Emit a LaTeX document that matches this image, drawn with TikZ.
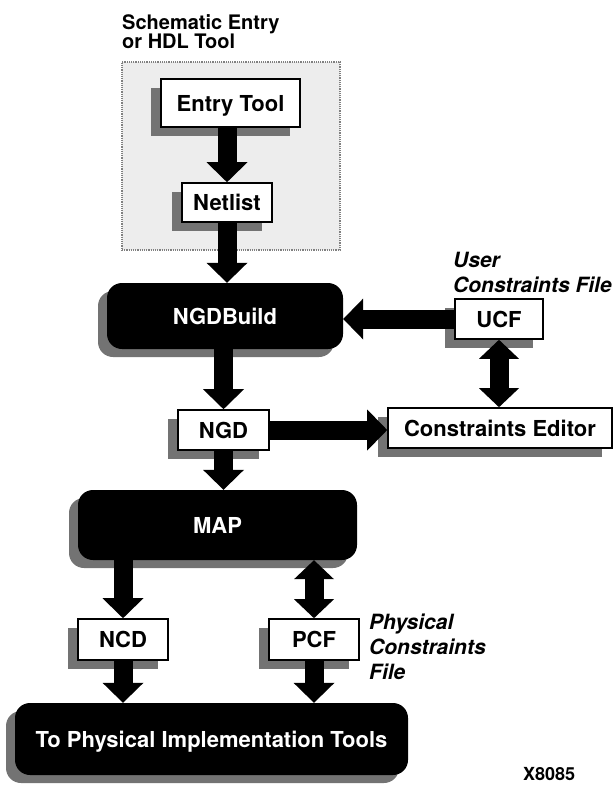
\documentclass[tikz,border=0pt]{standalone}
\usepackage{fontspec}
\setmainfont{TeX Gyre Heros}
\usepackage{xcolor}
\usepackage{tikz}
\usetikzlibrary{arrows.meta,shadows}

\begin{document}
\begin{tikzpicture}[x=1pt, y=-1pt]
		\tikzstyle{every node}=[font=\fontsize{22}{26}\selectfont\bfseries, inner sep=0pt];
		\tikzstyle{toolarea}=[draw=black!50, line width=1.2pt, densely dotted, fill=black!7];
		\tikzstyle{filebox}=[draw=black, line width=1.6pt, fill=white, text height=16pt, text depth=0pt, drop shadow={shadow xshift=-10pt, shadow yshift=-9pt, opacity=1, fill=black!55}];
		\tikzstyle{toolbox}=[fill=black, text=white, rounded corners=15pt, text height=16pt, text depth=0pt, drop shadow={shadow xshift=-9pt, shadow yshift=-8pt, opacity=1, fill=black!55}];
		\tikzstyle{fat}=[line width=19pt, -{Triangle[length=20pt, width=41pt, line width=0pt]}];
		\tikzstyle{fatboth}=[line width=19pt, {Triangle[length=19pt, width=40pt, line width=0pt]}-{Triangle[length=19pt, width=40pt, line width=0pt]}];
		\tikzstyle{note}=[font=\fontsize{21}{25}\selectfont\bfseries\itshape, align=left, anchor=north west];
		
		\useasboundingbox (0,0) rectangle (616,785);
		
		%Entry area
		\node[toolarea, minimum width=218pt, minimum height=188pt] (entryarea) at (231,156) {};
		\node[font=\fontsize{20}{19.5}\selectfont\bfseries, align=left, anchor=north west] (areatitle) at (122,14) {Schematic Entry\\or HDL Tool};
		
		%Files and tools
		\node[filebox, minimum width=139pt, minimum height=48pt] (entry) at (230.5,103) {Entry Tool};
		\node[filebox, minimum width=90pt, minimum height=39pt] (netlist) at (227,202.5) {Netlist};
		\node[toolbox, minimum width=236pt, minimum height=66pt] (ngdbuild) at (225,316) {NGDBuild};
		\node[filebox, minimum width=88pt, minimum height=40pt] (ucf) at (499,319) {UCF};
		\node[filebox, minimum width=91pt, minimum height=40pt] (ngd) at (223.5,430) {NGD};
		\node[filebox, minimum width=224pt, minimum height=40pt] (cedit) at (500,428) {Constraints Editor};
		\node[toolbox, minimum width=279pt, minimum height=70pt] (map) at (217.5,525) {MAP};
		\node[filebox, minimum width=90pt, minimum height=41pt] (ncd) at (123,639.5) {NCD};
		\node[filebox, minimum width=90pt, minimum height=41pt] (pcf) at (314,639.5) {PCF};
		\node[toolbox, minimum width=393pt, minimum height=72pt] (impl) at (211.5,739) {To Physical Implementation Tools};
		
		%Labels
		\node[note] (ucflabel) at (453,252) {User\\Constraints File};
		\node[note] (pcflabel) at (369,614) {Physical\\Constraints\\File};
		\node[font=\fontsize{18}{20}\selectfont\bfseries, anchor=base west] (figid) at (523,780) {X8085};
		
		%Arrows
		\draw[fat] (netlist.north |- entry.south) -- (netlist.north);
		\draw[fat] (netlist.south) -- (netlist.south |- ngdbuild.north);
		\draw[fat] (ucf.west) -- (ucf.west -| ngdbuild.east);
		\draw[fatboth] (ucf.south) -- (ucf.south |- cedit.north);
		\draw[fat] (ngd.north |- ngdbuild.south) -- (ngd.north);
		\draw[fat] (ngd.east) -- (ngd.east -| cedit.west);
		\draw[fat] (ngd.south) -- (ngd.south |- map.north);
		\draw[fat] (ncd.north |- map.south) -- (ncd.north);
		\draw[fatboth] (pcf.north |- map.south) -- (pcf.north);
		\draw[fat] (ncd.south) -- (ncd.south |- impl.north);
		\draw[fat] (pcf.south) -- (pcf.south |- impl.north);
\end{tikzpicture}
\end{document}
